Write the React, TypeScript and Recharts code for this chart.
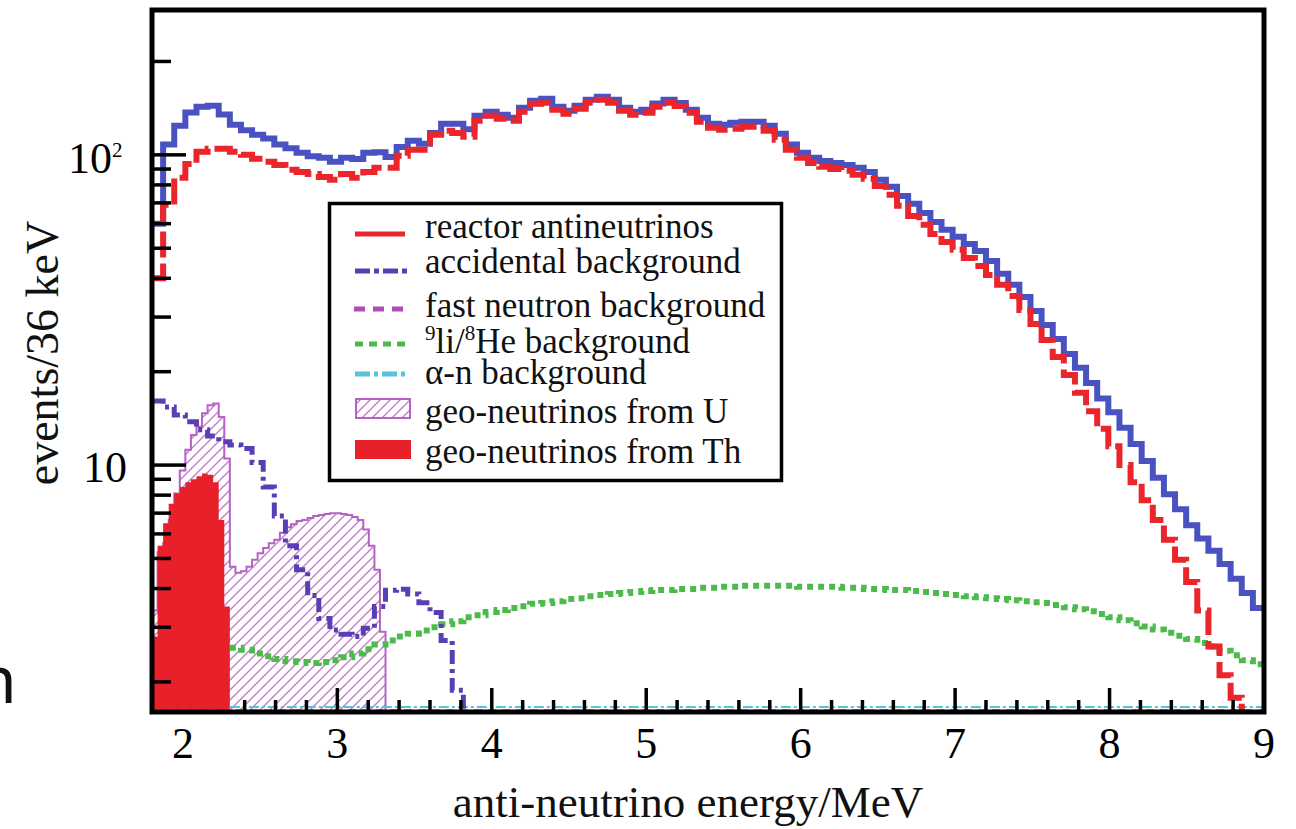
import React from "react";
import { Area, ComposedChart, Line, ReferenceLine, XAxis, YAxis } from "recharts";

const SERIF = "'Liberation Serif', 'Times New Roman', serif";

const E_START = 1.8;
const E_END = 9.0;
const BIN = 0.072; // reactor / total / backgrounds
const GEO_BIN = 0.036; // geo-neutrino histograms
const Y_MIN = 1.6;
const Y_MAX = 293;

// events per bin
const totalEvents = [
  60, 108, 124, 137, 143, 144, 135, 125, 120, 116,
  113, 108, 105, 101.5, 99, 97.8, 95, 97.8, 97, 101.5,
  102, 98.5, 106, 111, 108.5, 117.7, 125.9, 125.9, 121, 133.6,
  137.6, 134.6, 131.6, 141.8, 149.3, 151.6, 142.8, 138.6, 144, 150.5,
  153.8, 150.5, 141.8, 137.6, 139.7, 146.4, 150.5, 147, 139.7, 131.6,
  125.9, 125, 126.8, 127.8, 127.8, 124, 116.9, 108, 101.5, 97.8,
  95.6, 94.2, 92.8, 90.8, 88.1, 83.1, 78.9, 73.7, 69.5, 65.0,
  60.8, 57.3, 54.4, 51.6, 49.0, 45.5, 41.4, 38.1, 34.8, 31.4,
  28.3, 25.5, 22.8, 20.6, 18.4, 16.4, 14.8, 13.2, 11.7, 10.3,
  9.1, 8.06, 7.2, 6.4, 5.8, 5.3, 4.8, 4.3, 3.87, 3.46,
];

const reactor = [
  40, 69, 84.3, 93.5, 102.3, 104.6, 104.6, 102.3, 100, 97.1,
  95, 92.8, 89.5, 88.1, 86.8, 84.9, 83.1, 86.8, 84.3, 88.1,
  90.8, 90.8, 99.3, 103.8, 103.8, 116, 119.5, 117.7, 114.3, 128.7,
  133.6, 130.6, 128.7, 137.6, 146.1, 147.1, 139.7, 135.6, 140.7, 147.1,
  150.5, 147.1, 138.6, 134.6, 136.6, 142.8, 147.1, 143.8, 136.6, 127.8,
  122.2, 120.4, 121.3, 123.1, 123.1, 119.5, 111.8, 103.8, 97.8, 94.2,
  91.5, 90.1, 88.8, 86.2, 83.7, 79.4, 74.3, 68.5, 63.5, 59.5,
  55.6, 52.4, 49.4, 46.5, 43.8, 41, 38.1, 35.1, 31.6, 28.5,
  25.3, 22.3, 19.5, 17.1, 14.9, 13.1, 11.5, 10, 8.8, 7.7,
  6.65, 5.75, 4.95, 4.2, 3.4, 2.6, 2.1, 1.78, 1.2, 1.0,
];

// 9Li/8He: the part under the Th fill is hidden, so it starts at 2.304 MeV
const LIHE_START = 2.304;
const liHe = [
  2.58, 2.54, 2.47,
  2.42, 2.37, 2.33, 2.32, 2.3, 2.32, 2.35, 2.4, 2.47, 2.55,
  2.64, 2.72, 2.8, 2.86, 2.93, 3.0, 3.07, 3.14, 3.23, 3.28,
  3.36, 3.41, 3.46, 3.51, 3.57, 3.59, 3.64, 3.7, 3.72, 3.78,
  3.81, 3.84, 3.87, 3.9, 3.93, 3.96, 3.96, 3.99, 3.99, 4.02,
  4.02, 4.05, 4.05, 4.08, 4.08, 4.08, 4.08, 4.08, 4.05, 4.05,
  4.05, 4.05, 4.02, 4.02, 3.99, 3.99, 3.96, 3.96, 3.93, 3.9,
  3.87, 3.84, 3.81, 3.78, 3.75, 3.72, 3.7, 3.67, 3.64, 3.61,
  3.59, 3.54, 3.48, 3.43, 3.38, 3.31, 3.23, 3.16, 3.09, 3.02,
  2.95, 2.88, 2.82, 2.75, 2.67, 2.6, 2.52, 2.44, 2.35, 2.28,
];

const accidental = [
  16.1, 15.4, 14.5, 13.8, 13.0, 12.4, 11.9, 11.6, 11.3, 10.2,
  8.5, 6.85, 5.5, 4.6, 3.8, 3.2, 2.94, 2.85, 2.8, 2.98,
  3.5, 3.95, 3.98, 3.84, 3.6, 3.35, 2.72, 1.88,
];

const geoU = [
  3.4, 5.24, 5.6, 6.65, 8.1, 9.6, 11.2, 12.5, 13.3, 14.7,
  15.6, 15.8, 14.3, 10.5, 4.7, 4.5, 4.55, 4.7, 4.95, 5.2,
  5.4, 5.6, 5.75, 6.05, 6.3, 6.45, 6.6, 6.65, 6.75, 6.85,
  6.9, 6.95, 7.0, 7.0, 6.95, 6.9, 6.8, 6.65, 6.2, 5.5,
  4.6, 2.9,
];

const geoTh = [2.8, 5.5, 6.5, 7.5, 8.1, 8.5, 8.8, 9.0, 9.2, 9.4, 9.3, 8.8, 6.65, 3.5];

const fastNeutron = [
  { e: E_START, v: 1.62 },
  { e: E_END, v: 1.62 },
];
const alphaN = [
  { e: 2.304, v: 1.66 },
  { e: E_END, v: 1.66 },
];

const X_MAJOR = [2, 3, 4, 5, 6, 7, 8, 9];
// minor marks (2.0 and 2.2 sit under the Th fill in the original)
const X_MINOR = [
  2.4, 2.6, 2.8, 3.2, 3.4, 3.6, 3.8, 4.2, 4.4, 4.6, 4.8, 5.2, 5.4, 5.6, 5.8,
  6.2, 6.4, 6.6, 6.8, 7.2, 7.4, 7.6, 7.8, 8.2, 8.4, 8.6, 8.8,
];
const X_MAJOR_MARKS = [3, 4, 5, 6, 7, 8, 9];
const Y_TICKS = [2, 3, 4, 5, 6, 7, 8, 9, 10, 20, 30, 40, 50, 60, 70, 80, 90, 100, 200];

// bin low edges + closing edge so the last step is drawn
function hist(values: number[], width: number, endValue?: number, start = E_START) {
  const pts = values.map((v, i) => ({ e: +(start + i * width).toFixed(3), v }));
  pts.push({
    e: +(start + values.length * width).toFixed(3),
    v: endValue ?? values[values.length - 1],
  });
  return pts;
}

const totalData = hist(totalEvents, BIN);
const reactorData = hist(reactor, BIN);
const liHeData = hist(liHe, BIN, undefined, LIHE_START);
const accidentalData = hist(accidental, BIN, 1.0);
const geoUData = hist(geoU, GEO_BIN, Y_MIN);
const geoThData = hist(geoTh, GEO_BIN, Y_MIN);

const CHART_W = 1296;
const CHART_H = 829;
const X_AXIS_H = 40;
const MARGIN = { top: 10, right: 32, bottom: 77, left: 92 };
const AXIS_Y = CHART_H - MARGIN.bottom - X_AXIS_H; // bottom of the plot area
const PLOT_H = AXIS_Y - MARGIN.top;
const DECADE_PX = PLOT_H / Math.log10(Y_MAX / Y_MIN);
// value on the log axis that lies `px` pixels above the bottom edge
const aboveBottom = (px: number) => Y_MIN * Math.pow(10, px / DECADE_PX);

const renderXTick = (props: any) => {
  const { x, payload } = props;
  return (
    <text x={x} y={AXIS_Y + 46} textAnchor="middle" fontSize={44} fontFamily={SERIF} fill="#000">
      {payload.value}
    </text>
  );
};

const renderYTick = (props: any) => {
  const { x, y, payload } = props;
  const v = payload.value;
  const major = v === 10 || v === 100;
  return (
    <g>
      <rect x={x} y={y - 1.75} width={major ? 34 : 19} height={3.5} fill="#000" />
      {v === 10 && (
        <text x={x - 25} y={y + 17} textAnchor="end" fontSize={44} fontFamily={SERIF} fill="#000">
          10
        </text>
      )}
      {v === 100 && (
        <>
          <text x={x - 40} y={y + 18} textAnchor="end" fontSize={44} fontFamily={SERIF} fill="#000">
            10
          </text>
          <text x={x - 40} y={y + 2} fontSize={21} fontFamily={SERIF} fill="#000">
            2
          </text>
        </>
      )}
    </g>
  );
};

function Axes({ withTicks }: { withTicks: boolean }) {
  return (
    <>
      <XAxis
        dataKey="e"
        type="number"
        domain={[E_START, E_END]}
        allowDataOverflow
        ticks={X_MAJOR}
        interval={0}
        height={X_AXIS_H}
        axisLine={false}
        tickLine={false}
        tickSize={0}
        tickMargin={0}
        tick={withTicks ? renderXTick : false}
      />
      <YAxis
        type="number"
        scale="log"
        domain={[Y_MIN, Y_MAX]}
        allowDataOverflow
        ticks={Y_TICKS}
        interval={0}
        width={60}
        axisLine={false}
        tickLine={false}
        tickSize={0}
        tickMargin={0}
        tick={withTicks ? renderYTick : false}
      />
    </>
  );
}

export default function App() {
  const legendText = { fontSize: 35, fontFamily: SERIF, fill: "#111" };
  const minorTop = aboveBottom(12);
  const majorTop = aboveBottom(24);
  return (
    <div
      style={{
        position: "fixed",
        left: 0,
        top: 0,
        width: CHART_W,
        height: CHART_H,
        background: "#fff",
      }}
    >
      <ComposedChart width={CHART_W} height={CHART_H} margin={MARGIN}>
        {Axes({ withTicks: false })}
        <Area
          data={geoUData}
          dataKey="v"
          type="stepAfter"
          baseValue={Y_MIN}
          fill="url(#hatchU)"
          fillOpacity={1}
          stroke="#b562c4"
          strokeWidth={2}
          isAnimationActive={false}
        />
        <Area
          data={geoThData}
          dataKey="v"
          type="stepAfter"
          baseValue={Y_MIN}
          fill="#e8202a"
          fillOpacity={1}
          stroke="none"
          isAnimationActive={false}
        />
        <Line
          data={alphaN}
          dataKey="v"
          type="linear"
          stroke="#58c4dc"
          strokeWidth={2}
          strokeDasharray="10 3 3 3"
          dot={false}
          isAnimationActive={false}
        />
        <Line
          data={fastNeutron}
          dataKey="v"
          type="linear"
          stroke="#c050b8"
          strokeWidth={2}
          strokeDasharray="8 6"
          dot={false}
          isAnimationActive={false}
        />
        <Line
          data={liHeData}
          dataKey="v"
          type="stepAfter"
          stroke="#4cbb4c"
          strokeWidth={6}
          strokeDasharray="6 5"
          dot={false}
          isAnimationActive={false}
        />
        <Line
          data={accidentalData}
          dataKey="v"
          type="stepAfter"
          stroke="#5a3fb4"
          strokeWidth={5}
          strokeDasharray="14 5 4 5"
          dot={false}
          isAnimationActive={false}
        />
        <Line
          data={totalData}
          dataKey="v"
          type="stepAfter"
          stroke="#4a52c2"
          strokeWidth={6}
          dot={false}
          isAnimationActive={false}
        />
        <Line
          data={reactorData}
          dataKey="v"
          type="stepAfter"
          stroke="#ea252b"
          strokeWidth={6}
          strokeDasharray="26 6"
          dot={false}
          isAnimationActive={false}
        />
      </ComposedChart>

      {/* axes drawn on top of the filled histograms, same scales and margins */}
      <div style={{ position: "absolute", left: 0, top: 0, pointerEvents: "none" }}>
        <ComposedChart width={CHART_W} height={CHART_H} margin={MARGIN}>
          {Axes({ withTicks: true })}
          {X_MINOR.map((v) => (
            <ReferenceLine
              key={`mn${v}`}
              segment={[
                { x: v, y: Y_MIN },
                { x: v, y: minorTop },
              ]}
              stroke="#000"
              strokeWidth={3.5}
            />
          ))}
          {X_MAJOR_MARKS.map((v) => (
            <ReferenceLine
              key={`mj${v}`}
              segment={[
                { x: v, y: Y_MIN },
                { x: v, y: majorTop },
              ]}
              stroke="#000"
              strokeWidth={3.5}
            />
          ))}
          <Line data={totalData} dataKey="v" stroke="none" dot={false} isAnimationActive={false} />
        </ComposedChart>
      </div>

      <svg
        width={CHART_W}
        height={CHART_H}
        style={{ position: "absolute", left: 0, top: 0, pointerEvents: "none" }}
      >
        <defs>
          <pattern id="hatchU" patternUnits="userSpaceOnUse" width="10" height="10">
            <path d="M-1,1 l2,-2 M0,10 l10,-10 M9,11 l2,-2" stroke="#c37acb" strokeWidth="1.4" />
          </pattern>
        </defs>

        {/* frame */}
        <rect x={152} y={10} width={1112} height={702} fill="none" stroke="#000" strokeWidth={5} />

        {/* legend */}
        <rect x={329.5} y={203.5} width={452} height={277} fill="#fff" stroke="#000" strokeWidth={3.5} />
        <line x1={355} x2={405} y1={234} y2={234} stroke="#ea252b" strokeWidth={5} />
        <line x1={355} x2={407} y1={271} y2={271} stroke="#5a3fb4" strokeWidth={5} strokeDasharray="15 4 5 4" />
        <line x1={354} x2={408} y1={309} y2={309} stroke="#b04cb8" strokeWidth={5} strokeDasharray="11 8" />
        <line x1={355} x2={405} y1={344} y2={344} stroke="#4cbb4c" strokeWidth={5} strokeDasharray="8 6" />
        <line x1={355} x2={407} y1={374} y2={374} stroke="#58c4dc" strokeWidth={5} strokeDasharray="15 4 4 4" />
        <rect x={356} y={399} width={54} height={19} fill="url(#hatchU)" stroke="#b562c4" strokeWidth={2} />
        <rect x={355} y={440} width={56} height={19} fill="#e8202a" />

        <text x={425} y={238} {...legendText}>reactor antineutrinos</text>
        <text x={425} y={273} {...legendText}>accidental background</text>
        <text x={425} y={317} {...legendText}>fast neutron background</text>
        <text x={425} y={353} {...legendText}>
          <tspan fontSize={21} dy={-13}>9</tspan>
          <tspan dy={13}>li/</tspan>
          <tspan fontSize={21} dy={-13}>8</tspan>
          <tspan dy={13}>He background</tspan>
        </text>
        <text x={425} y={384} {...legendText}>α-n background</text>
        <text x={425} y={423} {...legendText}>geo-neutrinos from U</text>
        <text x={425} y={463} {...legendText}>geo-neutrinos from Th</text>

        {/* axis titles */}
        <text x={688} y={817} textAnchor="middle" fontSize={45} fontFamily={SERIF} fill="#111">
          anti-neutrino energy/MeV
        </text>
        <text
          x={58}
          y={353}
          textAnchor="middle"
          fontSize={46}
          fontFamily={SERIF}
          fill="#111"
          transform="rotate(-90, 58, 353)"
        >
          events/36 keV
        </text>

        {/* cropped glyph at the left border of the source image */}
        <text x={-24} y={703} fontSize={66} fontFamily="'Noto Sans', sans-serif" fill="#111">
          n
        </text>
      </svg>
    </div>
  );
}
